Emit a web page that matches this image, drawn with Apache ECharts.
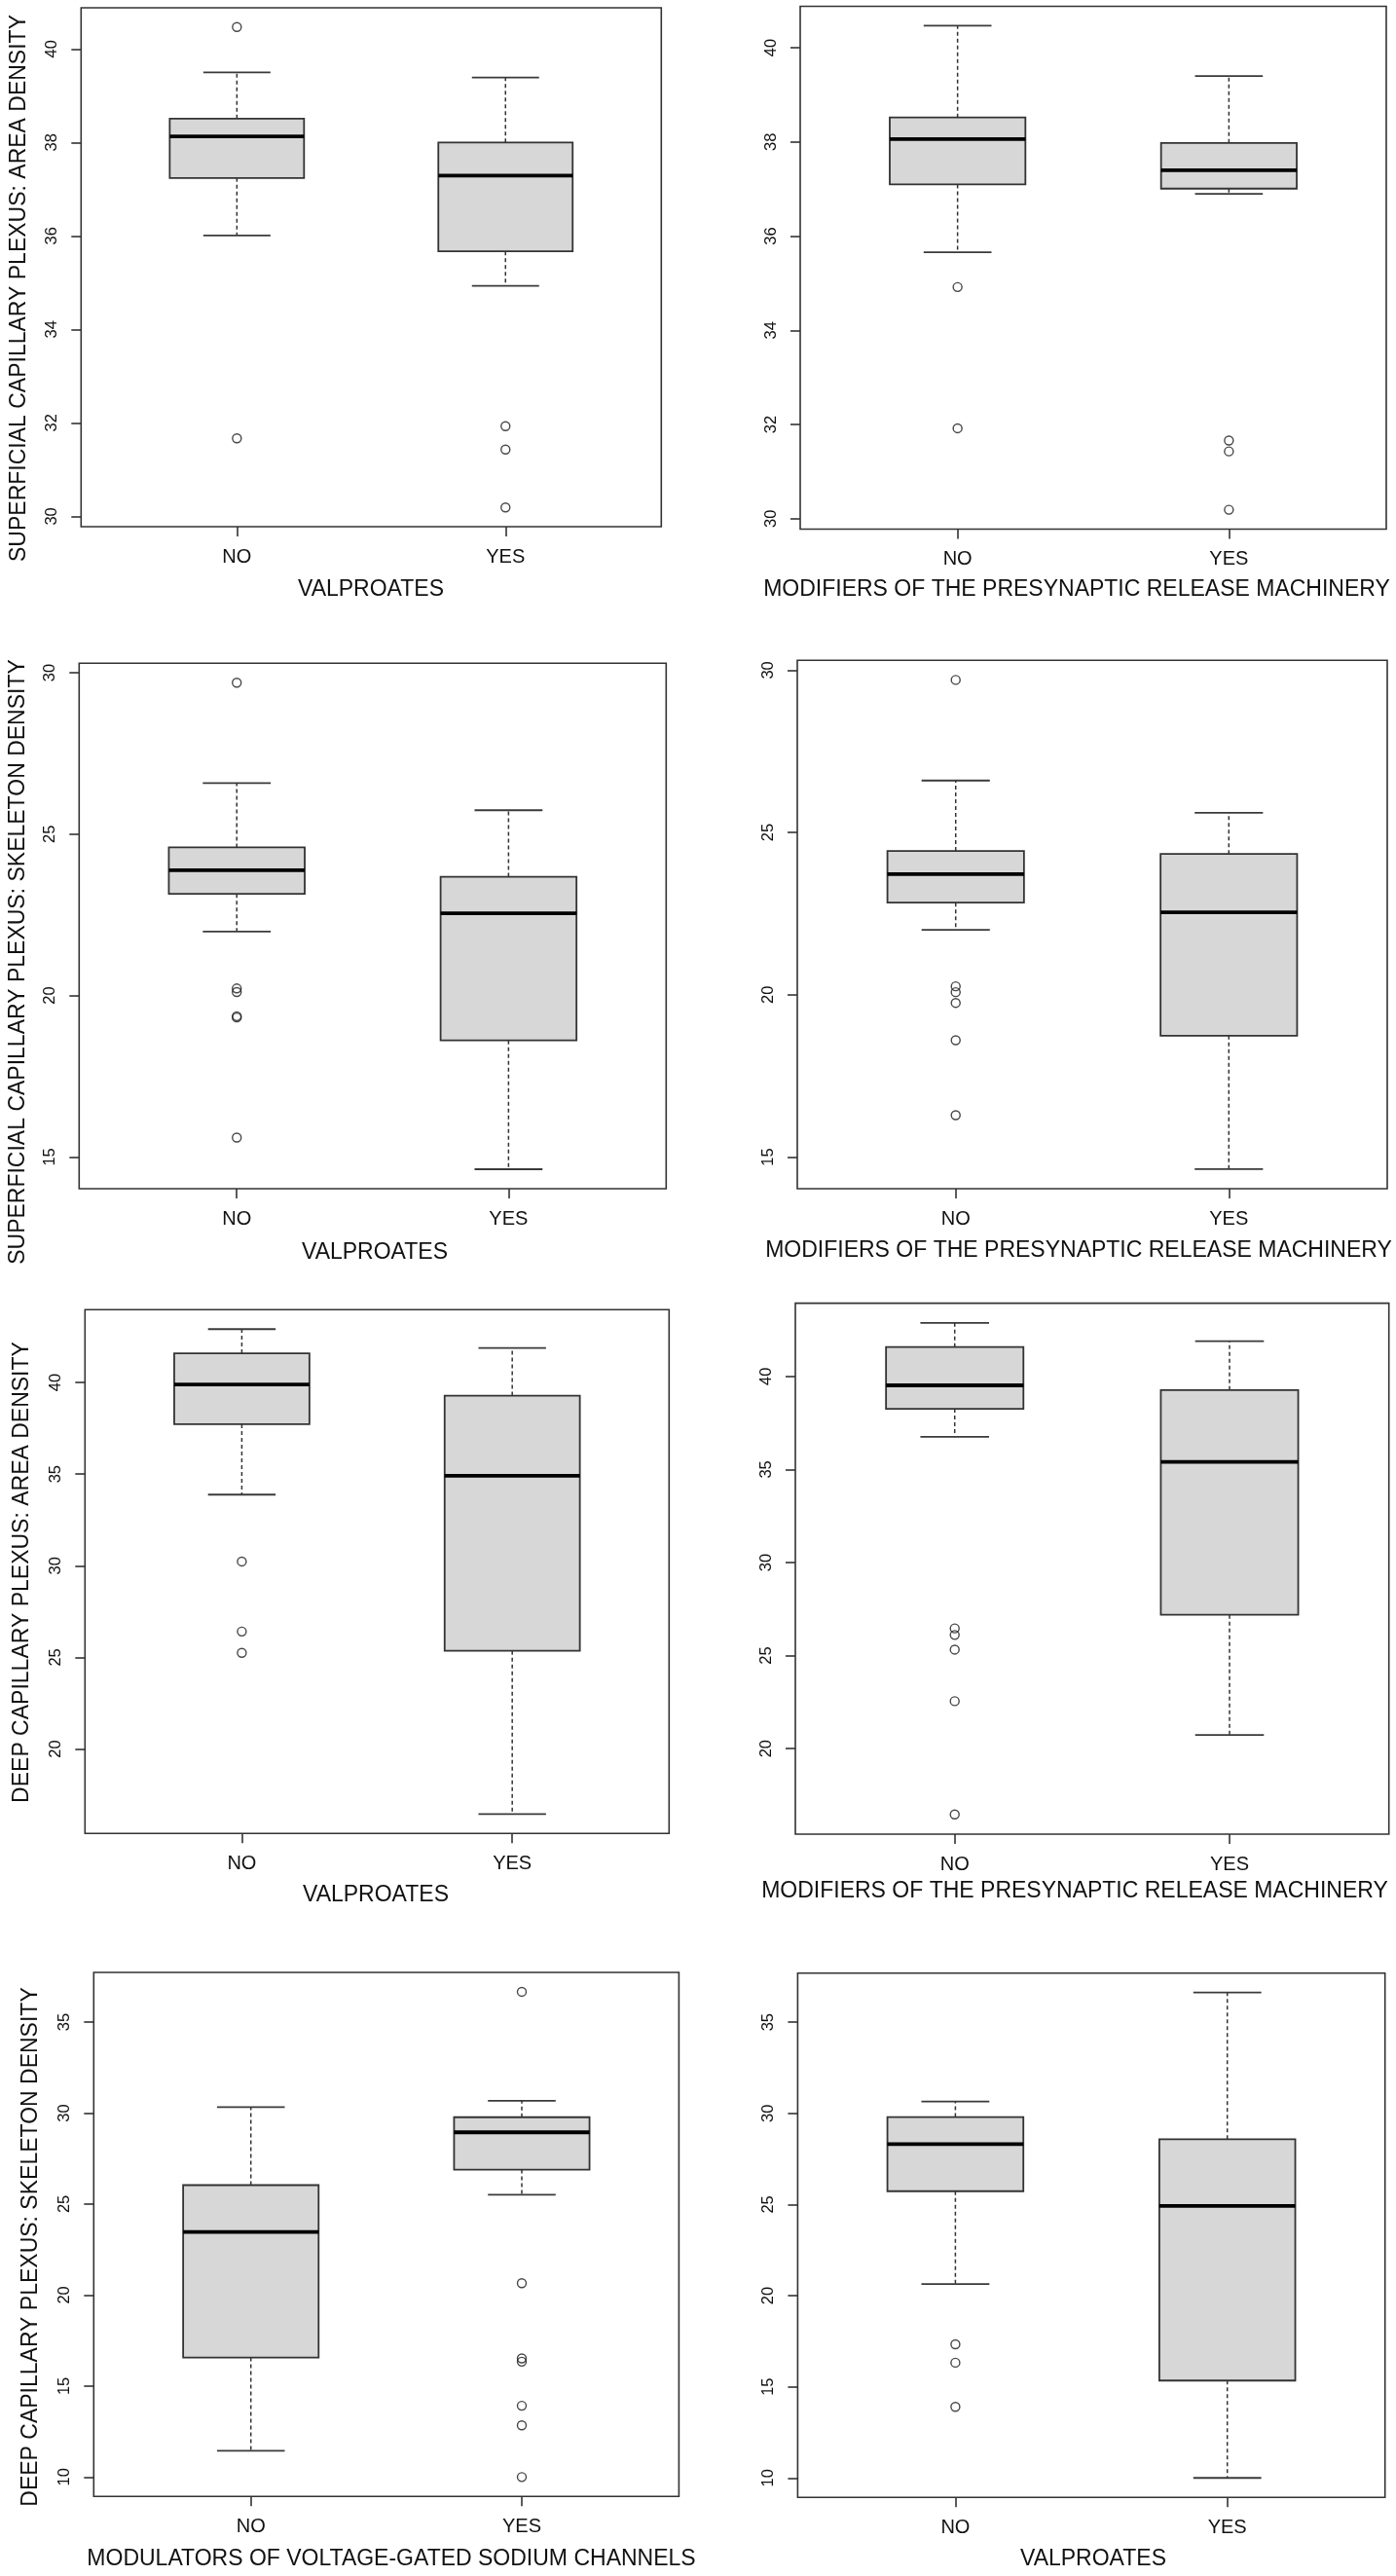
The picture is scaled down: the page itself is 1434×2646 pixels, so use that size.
<!DOCTYPE html>
<html>
<head>
<meta charset="utf-8">
<script src="https://cdn.jsdelivr.net/npm/echarts@6/dist/echarts.min.js"></script>
<style>
html,body{margin:0;padding:0;background:#ffffff;}
#chart{width:1434px;height:2646px;}
</style>
</head>
<body>
<div id="chart"></div>
<script>
// ---------------- DATA ----------------
const categories = ['NO', 'YES'];

// box stats: [lower whisker, Q1, median, Q3, upper whisker]
const p1BoxNo  = [36.01, 37.24, 38.13, 38.51, 39.50];
const p1BoxYes = [34.93, 35.67, 37.29, 38.00, 39.39];
const p1OutNo  = [40.47, 31.67];
const p1OutYes = [31.93, 31.43, 30.19];
const p1Ticks  = [30, 32, 34, 36, 38, 40];

const p2BoxNo  = [35.66, 37.10, 38.06, 38.52, 40.47];
const p2BoxYes = [36.90, 37.01, 37.40, 37.98, 39.40];
const p2OutNo  = [34.92, 31.92];
const p2OutYes = [31.66, 31.43, 30.19];
const p2Ticks  = [30, 32, 34, 36, 38, 40];

const p3BoxNo  = [21.98, 23.15, 23.88, 24.59, 26.58];
const p3BoxYes = [14.62, 18.61, 22.55, 23.68, 25.74];
const p3OutNo  = [29.69, 20.22, 20.11, 19.36, 19.32, 15.60];
const p3OutYes = [];
const p3Ticks  = [15, 20, 25, 30];

const p4BoxNo  = [22.00, 22.84, 23.72, 24.43, 26.60];
const p4BoxYes = [14.63, 18.74, 22.54, 24.34, 25.61];
const p4OutNo  = [29.70, 20.26, 20.08, 19.75, 18.60, 16.29];
const p4OutYes = [];
const p4Ticks  = [15, 20, 25, 30];

const p5BoxNo  = [33.88, 37.72, 39.89, 41.59, 42.91];
const p5BoxYes = [16.45, 25.36, 34.91, 39.28, 41.88];
const p5OutNo  = [30.23, 26.41, 25.25];
const p5OutYes = [];
const p5Ticks  = [20, 25, 30, 35, 40];

const p6BoxNo  = [36.75, 38.26, 39.52, 41.58, 42.88];
const p6BoxYes = [20.73, 27.19, 35.41, 39.27, 41.89];
const p6OutNo  = [26.46, 26.11, 25.32, 22.55, 16.46];
const p6OutYes = [];
const p6Ticks  = [20, 25, 30, 35, 40];

const p7BoxNo  = [11.44, 16.57, 23.46, 26.04, 30.32];
const p7BoxYes = [25.51, 26.89, 28.94, 29.77, 30.67];
const p7OutNo  = [];
const p7OutYes = [36.66, 20.65, 16.52, 16.34, 13.92, 12.84, 10.00];
const p7Ticks  = [10, 15, 20, 25, 30, 35];

const p8BoxNo  = [20.64, 25.73, 28.31, 29.80, 30.65];
const p8BoxYes = [10.00, 15.34, 24.92, 28.58, 36.63];
const p8OutNo  = [17.33, 16.32, 13.90];
const p8OutYes = [];
const p8Ticks  = [10, 15, 20, 25, 30, 35];

const yTitles = [
  'SUPERFICIAL CAPILLARY PLEXUS: AREA DENSITY',
  'SUPERFICIAL CAPILLARY PLEXUS: SKELETON DENSITY',
  'DEEP CAPILLARY PLEXUS: AREA DENSITY',
  'DEEP CAPILLARY PLEXUS: SKELETON DENSITY'
];
const xTitles = [
  'VALPROATES', 'MODIFIERS OF THE PRESYNAPTIC RELEASE MACHINERY',
  'VALPROATES', 'MODIFIERS OF THE PRESYNAPTIC RELEASE MACHINERY',
  'VALPROATES', 'MODIFIERS OF THE PRESYNAPTIC RELEASE MACHINERY',
  'MODULATORS OF VOLTAGE-GATED SODIUM CHANNELS', 'VALPROATES'
];

// ---------------- LAYOUT (pixels) ----------------
const gridRects = [
  [83.3, 8, 596, 533],
  [822, 6.5, 602, 537],
  [81.3, 681.3, 603, 539.7],
  [819, 678.3, 606, 542.7],
  [87.3, 1345.3, 600, 538],
  [817, 1338.6, 609.7, 545.4],
  [96.3, 2026, 601.1, 538.3],
  [819.4, 2026.7, 603.3, 538.5]
];
const yTitlePos = [[20, 296], [19, 988], [23, 1615], [32, 2308]];
const xTitlePos = [[381, 606], [1106, 606], [385, 1287], [1108, 1285],
                   [386, 1947], [1104, 1943], [402, 2629], [1123, 2629]];

// ---------------- BUILD ----------------
const panels = [
  [p1BoxNo, p1BoxYes, p1OutNo, p1OutYes, p1Ticks],
  [p2BoxNo, p2BoxYes, p2OutNo, p2OutYes, p2Ticks],
  [p3BoxNo, p3BoxYes, p3OutNo, p3OutYes, p3Ticks],
  [p4BoxNo, p4BoxYes, p4OutNo, p4OutYes, p4Ticks],
  [p5BoxNo, p5BoxYes, p5OutNo, p5OutYes, p5Ticks],
  [p6BoxNo, p6BoxYes, p6OutNo, p6OutYes, p6Ticks],
  [p7BoxNo, p7BoxYes, p7OutNo, p7OutYes, p7Ticks],
  [p8BoxNo, p8BoxYes, p8OutNo, p8OutYes, p8Ticks]
];

const BOX_W = 0.5;   // in x-axis units
const CAP_W = 0.25;
const FONT = '"Liberation Sans", Arial, Helvetica, sans-serif';

function renderBox(params, api) {
  const x = api.value(0);
  const pLw = api.coord([x, api.value(1)]);
  const pQ1 = api.coord([x, api.value(2)]);
  const pMd = api.coord([x, api.value(3)]);
  const pQ3 = api.coord([x, api.value(4)]);
  const pUw = api.coord([x, api.value(5)]);
  const bw = api.size([BOX_W, 0])[0];
  const cw = api.size([CAP_W, 0])[0];
  const cx = pMd[0];
  const dash = {stroke: '#333333', lineWidth: 1.5, lineDash: [4, 3]};
  const cap = {stroke: '#3a3a3a', lineWidth: 1.8};
  return {
    type: 'group',
    children: [
      {type: 'line', shape: {x1: cx, y1: pQ3[1], x2: cx, y2: pUw[1]}, style: dash},
      {type: 'line', shape: {x1: cx, y1: pQ1[1], x2: cx, y2: pLw[1]}, style: dash},
      {type: 'line', shape: {x1: cx - cw / 2, y1: pUw[1], x2: cx + cw / 2, y2: pUw[1]}, style: cap},
      {type: 'line', shape: {x1: cx - cw / 2, y1: pLw[1], x2: cx + cw / 2, y2: pLw[1]}, style: cap},
      {type: 'rect', shape: {x: cx - bw / 2, y: pQ3[1], width: bw, height: pQ1[1] - pQ3[1]},
       style: {fill: '#d7d7d7', stroke: '#333333', lineWidth: 1.8}},
      {type: 'line', shape: {x1: cx - bw / 2, y1: pMd[1], x2: cx + bw / 2, y2: pMd[1]},
       style: {stroke: '#000000', lineWidth: 3.8}}
    ]
  };
}

const grids = [], xAxes = [], yAxes = [], series = [], graphics = [];

panels.forEach(function (p, i) {
  const boxNo = p[0], boxYes = p[1], outNo = p[2], outYes = p[3], ticks = p[4];
  const all = boxNo.concat(boxYes, outNo, outYes);
  const lo = Math.min.apply(null, all), hi = Math.max.apply(null, all);
  const pad = (hi - lo) * 0.04;
  const r = gridRects[i];
  grids.push({
    left: r[0], top: r[1], width: r[2], height: r[3],
    show: true, borderColor: '#333333', borderWidth: 1.6, backgroundColor: 'transparent'
  });
  xAxes.push({
    type: 'value', gridIndex: i, min: 0.5 - 0.08, max: categories.length + 0.5 + 0.08,
    axisLine: {show: false}, splitLine: {show: false},
    axisTick: {show: true, customValues: [1, 2], length: 10, lineStyle: {color: '#333333', width: 1.6}},
    axisLabel: {show: true, customValues: [1, 2], formatter: function (v) { return categories[Math.round(v) - 1]; },
      fontSize: 20, fontFamily: FONT, color: '#111111', margin: 21}
  });
  yAxes.push({
    type: 'value', gridIndex: i, min: lo - pad, max: hi + pad,
    axisLine: {show: false}, splitLine: {show: false},
    axisTick: {show: true, customValues: ticks, length: 10, lineStyle: {color: '#333333', width: 1.6}},
    axisLabel: {show: true, customValues: ticks, rotate: 90, fontSize: 16.5, fontFamily: FONT,
      color: '#111111', margin: 21}
  });
  series.push({
    type: 'custom', xAxisIndex: i, yAxisIndex: i, renderItem: renderBox,
    encode: {x: 0, y: [1, 2, 3, 4, 5]},
    data: [[1].concat(boxNo), [2].concat(boxYes)],
    silent: true
  });
  const outData = outNo.map(function (v) { return [1, v]; }).concat(outYes.map(function (v) { return [2, v]; }));
  series.push({
    type: 'scatter', xAxisIndex: i, yAxisIndex: i, data: outData,
    symbol: 'circle', symbolSize: 9,
    itemStyle: {color: 'rgba(0,0,0,0)', borderColor: '#1a1a1a', borderWidth: 1.4},
    silent: true, z: 5
  });
  graphics.push({
    type: 'text', x: xTitlePos[i][0], y: xTitlePos[i][1],
    style: {text: xTitles[i], font: '23px ' + FONT, fill: '#111111', textAlign: 'center', textVerticalAlign: 'middle'}
  });
});

yTitles.forEach(function (t, k) {
  graphics.push({
    type: 'text', x: yTitlePos[k][0], y: yTitlePos[k][1], rotation: Math.PI / 2,
    style: {text: t, font: '23px ' + FONT, fill: '#111111', textAlign: 'center', textVerticalAlign: 'middle'}
  });
});

const chart = echarts.init(document.getElementById('chart'), null, {renderer: 'canvas'});
chart.setOption({
  backgroundColor: '#ffffff',
  animation: false,
  grid: grids,
  xAxis: xAxes,
  yAxis: yAxes,
  series: series,
  graphic: graphics
});
</script>
</body>
</html>
